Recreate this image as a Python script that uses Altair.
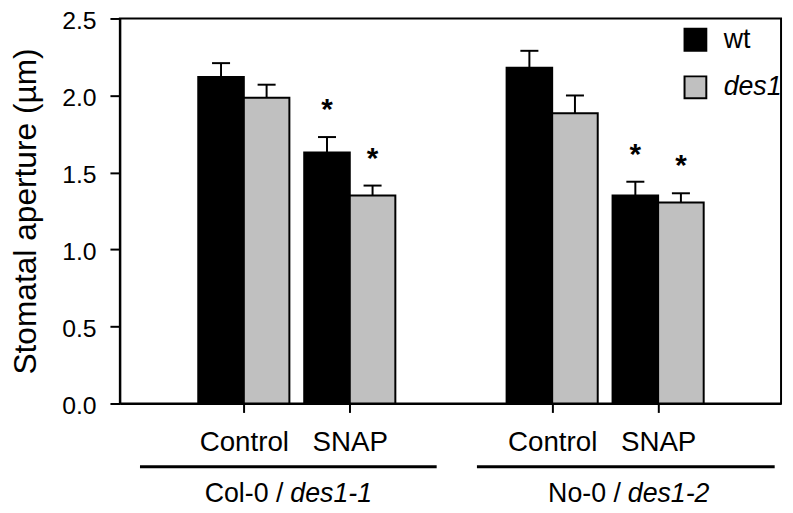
import altair as alt
import pandas as pd

# ---- data ----
conditions = ["Control", "SNAP", "Control", "SNAP"]
backgrounds = ["Col-0", "Col-0", "No-0", "No-0"]
cond_pos = [1.17, 2.17, 4.08, 5.08]          # category positions on the x axis

wt_mean = [2.12, 1.63, 2.18, 1.35]
wt_se = [0.09, 0.10, 0.11, 0.09]
des1_mean = [1.985, 1.35, 1.885, 1.305]
des1_se = [0.085, 0.065, 0.115, 0.06]
wt_sig = [False, True, False, True]
des1_sig = [False, True, False, True]

group_label = ["Col-0 /", "No-0 /"]
group_allele = ["des1-1", "des1-2"]
group_start = [0.19, 3.37]
group_end = [2.99, 6.18]

y_ticks = [0.0, 0.5, 1.0, 1.5, 2.0, 2.5]

FONT = "Liberation Sans"
BAR_W = 0.43
CAP = 0.085

rows = []
for i in range(len(conditions)):
    p = cond_pos[i]
    rows.append(dict(genotype="wt", x0=p - BAR_W, x1=p, xc=p - BAR_W / 2,
                     mean=wt_mean[i], top=wt_mean[i] + wt_se[i], sig=wt_sig[i],
                     cl=p - BAR_W / 2 - CAP, cr=p - BAR_W / 2 + CAP, zero=0.0))
    rows.append(dict(genotype="des1", x0=p, x1=p + BAR_W, xc=p + BAR_W / 2,
                     mean=des1_mean[i], top=des1_mean[i] + des1_se[i], sig=des1_sig[i],
                     cl=p + BAR_W / 2 - CAP, cr=p + BAR_W / 2 + CAP, zero=0.0))
df = pd.DataFrame(rows)

groups = pd.DataFrame(dict(label=group_label, allele=group_allele,
                           start=group_start, end=group_end))
groups["center"] = (groups["start"] + groups["end"]) / 2

xscale = alt.Scale(domain=[0, 6.24], nice=False, zero=False)
yscale = alt.Scale(domain=[0, 2.5], nice=False)

label_expr = "[" + ",".join("'%s'" % c for c in conditions) + "][indexof([" + \
    ",".join(str(v) for v in cond_pos) + "], datum.value)]"

xaxis = alt.Axis(values=cond_pos, labelExpr=label_expr, title=None, tickSize=9,
                 labelPadding=16, labelFontSize=28, labelFlush=False,
                 labelOverlap=False, grid=False)
yaxis = alt.Axis(values=y_ticks, format=".1f", title="Stomatal aperture (µm)",
                 titleFontSize=32, titleFontWeight="normal", titlePadding=19,
                 labelFontSize=25, labelPadding=14, labelOffset=2, tickSize=10,
                 grid=False)

X = lambda f: alt.X(f, type="quantitative", scale=xscale, axis=xaxis)
Y = lambda f: alt.Y(f, type="quantitative", scale=yscale, axis=yaxis)

legend_common = dict(orient="none", title=None, symbolType="square", symbolSize=484,
                     symbolStrokeColor="black", symbolStrokeWidth=2,
                     labelFontSize=27, labelFont=FONT, labelOffset=15, padding=0,
                     labelColor="black")

bars_wt = alt.Chart(df).transform_filter(alt.datum.genotype == "wt").mark_rect(
    stroke="black", strokeWidth=2).encode(
    x=X("x0"), x2="x1", y=Y("mean"), y2="zero",
    color=alt.Color("genotype:N", scale=alt.Scale(domain=["wt"], range=["#000000"]),
                    legend=alt.Legend(legendX=568, legendY=8, **legend_common)))

bars_des = alt.Chart(df).transform_filter(alt.datum.genotype == "des1").mark_rect(
    stroke="black", strokeWidth=2).encode(
    x=X("x0"), x2="x1", y=Y("mean"), y2="zero",
    color=alt.Color("genotype:N", scale=alt.Scale(domain=["des1"], range=["#c0c0c0"]),
                    legend=alt.Legend(legendX=568, legendY=56, labelFontStyle="italic",
                                      **legend_common)))

err_v = alt.Chart(df).mark_rule(color="black", strokeWidth=2).encode(
    x=X("xc"), y=Y("mean"), y2="top")
err_cap = alt.Chart(df).mark_rule(color="black", strokeWidth=2).encode(
    x=X("cl"), x2="cr", y=Y("top"))

stars = alt.Chart(df).transform_filter(alt.datum.sig).mark_text(
    text="*", font=FONT, fontSize=30, fontWeight="bold", color="black",
    baseline="middle", dy=-27).encode(x=X("xc"), y=Y("top"))

grp_rule = alt.Chart(groups).mark_rule(color="black", strokeWidth=3).encode(
    x=X("start"), x2="end", y=alt.value(453))
grp_txt1 = alt.Chart(groups).mark_text(
    font=FONT, fontSize=27, align="right", baseline="alphabetic", dx=-5,
    color="black").encode(x=X("center"), y=alt.value(489), text="label:N")
grp_txt2 = alt.Chart(groups).mark_text(
    font=FONT, fontSize=27, fontStyle="italic", align="left", baseline="alphabetic",
    dx=2, color="black").encode(x=X("center"), y=alt.value(489), text="allele:N")

chart = alt.layer(bars_wt, bars_des, err_v, err_cap, stars, grp_rule, grp_txt1,
                  grp_txt2).resolve_scale(color="independent").properties(
    width=668, height=389, autosize="none",
    padding={"left": 113, "top": 8, "right": 4, "bottom": 104},
).configure(font=FONT).configure_view(stroke="black", strokeWidth=2).configure_axis(
    domainColor="black", domainWidth=2, tickColor="black", tickWidth=2,
    labelColor="black", titleColor="black", labelFont=FONT, titleFont=FONT)

chart.save("out.html", embed_options={"renderer": "svg", "actions": False})
